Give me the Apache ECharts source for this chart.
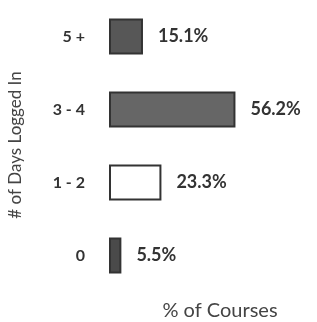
<!DOCTYPE html>
<html lang="en">
<head>
    <meta charset="UTF-8">
    <title>Days Logged In</title>
    <script src="https://cdn.jsdelivr.net/npm/echarts@6/dist/echarts.min.js"></script>
    <style>body{margin:0;background:#fff}</style>
</head>
<body>
    <div id="main" style="width: 317px;height:322px;"></div>
    <script type="text/javascript">
        // data
        var categories = ['0', '1 - 2', '3 - 4', '5 +'];
        var percents = [5.5, 23.3, 56.2, 15.1];
        var barColors = ['#4a4a4a', '#ffffff', '#666666', '#575757'];

        var myChart = echarts.init(document.getElementById('main'));

        var option = {
            animation: false,
            textStyle: { fontFamily: 'Lato', color: '#333' },
            grid: { left: 109, top: 0, width: 180, height: 292 },
            xAxis: {
                type: 'value',
                min: 0,
                max: 80,
                axisLine: { show: false },
                axisTick: { show: false },
                axisLabel: { show: false },
                splitLine: { show: false }
            },
            yAxis: {
                type: 'category',
                data: categories,
                axisLine: { show: false },
                axisTick: { show: false },
                axisLabel: { fontSize: 16, color: '#333', fontWeight: 'bold', margin: 24 }
            },
            graphic: [
                { type: 'text', x: 16, y: 145, rotation: Math.PI / 2,
                  style: { text: '# of Days Logged In', fontSize: 17, fill: '#444', fontFamily: 'Lato', align: 'center', verticalAlign: 'middle' } },
                { type: 'text', x: 220, y: 311,
                  style: { text: '% of Courses', fontSize: 20, fill: '#444', fontFamily: 'Lato', align: 'center', verticalAlign: 'middle' } }
            ],
            series: [{
                type: 'bar',
                barWidth: 36,
                data: percents.map(function (v, i) {
                    return { value: v, itemStyle: { color: barColors[i], borderColor: '#333', borderWidth: 2 } };
                }),
                label: {
                    show: true,
                    position: 'right',
                    distance: 15,
                    fontSize: 18,
                    color: '#333',
                    fontWeight: 'bold',
                    formatter: function (p) { return p.value.toFixed(1) + '%'; }
                }
            }]
        };

        myChart.setOption(option);
    </script>
</body>
</html>
